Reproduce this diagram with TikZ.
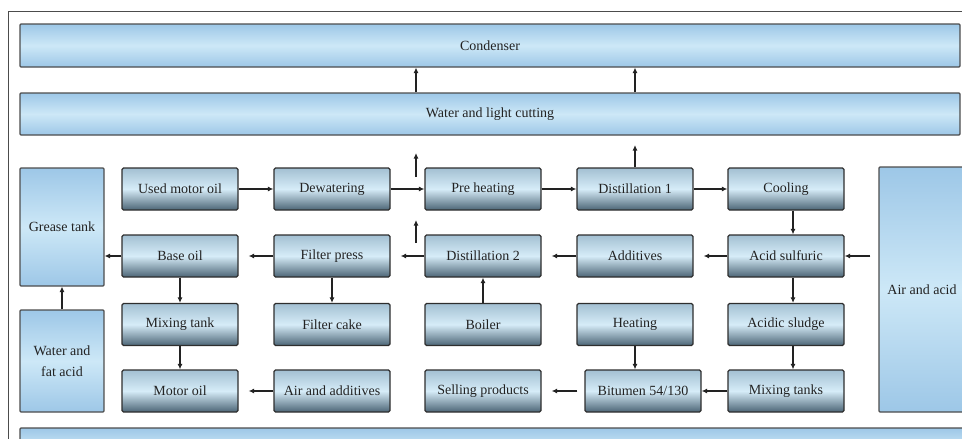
\documentclass[tikz,border=0pt]{standalone}
\usepackage{fontspec}
\setmainfont{Liberation Serif}
\usetikzlibrary{arrows.meta,calc}
\definecolor{txt}{HTML}{222222}
\definecolor{edge}{HTML}{2E2E2E}
\definecolor{ptop}{HTML}{A3C0D2}
\definecolor{pmid}{HTML}{D6ECF8}
\definecolor{pbot}{HTML}{4C6576}
\definecolor{btop}{HTML}{9DC7E7}
\definecolor{bmid}{HTML}{CDE8F7}
\tikzset{
  proc/.style={draw=edge, line width=1.2pt, rounded corners=1.5pt,
    top color=ptop, bottom color=pbot, middle color=pmid,
    minimum width=116pt, minimum height=42pt, inner sep=0pt,
    font=\fontsize{14}{16}\selectfont, text=txt},
  big/.style={draw=edge!85, line width=1.1pt, rounded corners=1pt,
    top color=btop, bottom color=btop, middle color=bmid,
    inner sep=0pt, font=\fontsize{14}{16}\selectfont, text=txt, align=center},
  flow/.style={draw=txt, line width=1.4pt, -{Latex[length=5.5pt,width=5pt]}},
  gap/.style={shorten >=10pt}
}
\begin{document}
\begin{tikzpicture}[x=1pt,y=-1pt]
\useasboundingbox (0,0) rectangle (962,439);
\clip (0,0) rectangle (962,439);
% frame
\draw[line width=1pt, draw=black!70] (8,439) -- (8,11) -- (962,11);
% big boxes
\node[big, minimum width=940pt, minimum height=43pt] (cond) at (490,45.5) {Condenser};
\node[big, minimum width=940pt, minimum height=42pt] (water) at (490,114) {Water and light cutting};
\node[big, minimum width=84pt, minimum height=118pt] (grease) at (62,227) {Grease tank};
\node[big, minimum width=84pt, minimum height=102pt] (wfa) at (62,361) {Water and\\[5pt]fat acid};
\node[big, minimum width=86pt, minimum height=245pt] (airacid) at (922,289.5) {Air and acid};
\node[big, minimum width=945pt, minimum height=42pt] (bottom) at (492.5,449) {};
% row 1
\node[proc] (used) at (180,189) {Used motor oil};
\node[proc] (dew) at (332,189) {Dewatering};
\node[proc] (pre) at (483,189) {Pre heating};
\node[proc] (dist1) at (635,189) {Distillation 1};
\node[proc] (cool) at (786,189) {Cooling};
% row 2
\node[proc] (base) at (180,256) {Base oil};
\node[proc] (fpress) at (332,256) {Filter press};
\node[proc] (dist2) at (483,256) {Distillation 2};
\node[proc] (addit) at (635,256) {Additives};
\node[proc] (acid) at (786,256) {Acid sulfuric};
% row 3
\node[proc] (mixt) at (180,324.5) {Mixing tank};
\node[proc] (fcake) at (332,324.5) {Filter cake};
\node[proc] (boiler) at (483,324.5) {Boiler};
\node[proc] (heat) at (635,324.5) {Heating};
\node[proc] (sludge) at (786,324.5) {Acidic sludge};
% row 4
\node[proc] (motor) at (180,391) {Motor oil};
\node[proc] (airadd) at (332,391) {Air and additives};
\node[proc] (sell) at (483,391) {Selling products};
\node[proc] (bitu) at (643,391) {Bitumen 54/130};
\node[proc] (mixs) at (786,391) {Mixing tanks};
% free ends
\coordinate (f1a) at (416,177);
\coordinate (f1b) at (416,153);
\coordinate (f2a) at (416,243);
\coordinate (f2b) at (416,220);
\coordinate (f3b) at (635,145);
% connectors to condenser
\draw[flow] (water.north -| f1a) -- (cond.south -| f1a);
\draw[flow] (water.north -| dist1) -- (cond.south -| dist1);
\draw[flow] (f1a) -- (f1b);
\draw[flow] (f2a) -- (f2b);
\draw[flow] (dist1.north) -- (f3b);
% row 1 flow
\draw[flow] (used) -- (dew);
\draw[flow] (dew) -- (pre);
\draw[flow] (pre) -- (dist1);
\draw[flow] (dist1) -- (cool);
\draw[flow] ([xshift=7pt]cool.south) -- ([xshift=7pt]acid.north);
% row 2 flow
\draw[flow, shorten <=8pt] (airacid.west |- acid) -- (acid.east);
\draw[flow, gap] (acid) -- (addit);
\draw[flow, gap] (addit) -- (dist2);
\draw[flow, gap] (dist2) -- (fpress);
\draw[flow, gap] (fpress) -- (base);
\draw[flow] (base.west) -- (grease.east |- base);
% verticals
\draw[flow] (base) -- (mixt);
\draw[flow] (mixt) -- (motor);
\draw[flow] (fpress) -- (fcake);
\draw[flow] (boiler) -- (dist2);
\draw[flow] ([xshift=7pt]acid.south) -- ([xshift=7pt]sludge.north);
\draw[flow] ([xshift=7pt]sludge.south) -- ([xshift=7pt]mixs.north);
\draw[flow] (heat.south) -- (heat.south |- bitu.north);
\draw[flow] (wfa) -- (grease);
% row 4 flow
\draw[flow] (mixs) -- (bitu);
\draw[flow, gap, shorten <=7pt] (bitu) -- (sell);
\draw[flow, gap] (airadd) -- (motor);
\end{tikzpicture}
\end{document}
